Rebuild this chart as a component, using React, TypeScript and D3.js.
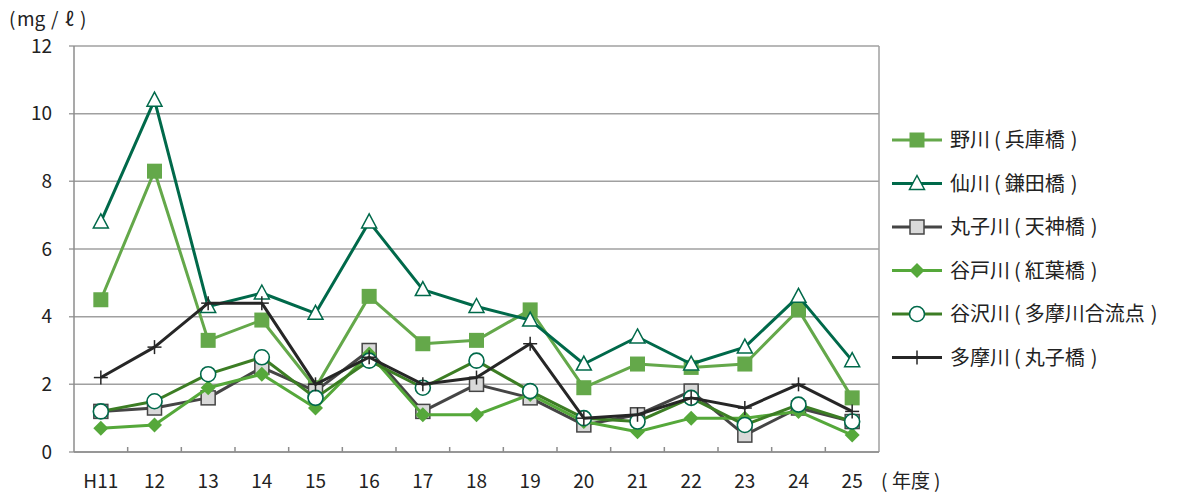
import React from "react";
import * as d3 from "d3";

const categories = ["H11", "12", "13", "14", "15", "16", "17", "18", "19", "20", "21", "22", "23", "24", "25"];
const yTicks = [0, 2, 4, 6, 8, 10, 12];

const noga = [4.5, 8.3, 3.3, 3.9, 1.9, 4.6, 3.2, 3.3, 4.2, 1.9, 2.6, 2.5, 2.6, 4.2, 1.6];
const sengawa = [6.8, 10.4, 4.3, 4.7, 4.1, 6.8, 4.8, 4.3, 3.9, 2.6, 3.4, 2.6, 3.1, 4.6, 2.7];
const marukogawa = [1.2, 1.3, 1.6, 2.5, 1.8, 3.0, 1.2, 2.0, 1.6, 0.8, 1.1, 1.8, 0.5, 1.3, 0.9];
const yatogawa = [0.7, 0.8, 1.9, 2.3, 1.3, 2.9, 1.1, 1.1, 1.7, 0.9, 0.6, 1.0, 1.0, 1.2, 0.5];
const yazawagawa = [1.2, 1.5, 2.3, 2.8, 1.6, 2.7, 1.9, 2.7, 1.8, 1.0, 0.9, 1.6, 0.8, 1.4, 0.9];
const tamagawa = [2.2, 3.1, 4.4, 4.4, 2.0, 2.8, 2.0, 2.2, 3.2, 1.0, 1.1, 1.6, 1.3, 2.0, 1.2];

const riverNames = ["野川", "仙川", "丸子川", "谷戸川", "谷沢川", "多摩川"];
const pointNames = ["兵庫橋", "鎌田橋", "天神橋", "紅葉橋", "多摩川合流点", "丸子橋"];

type Marker = "square" | "triangle" | "graySquare" | "diamond" | "circle" | "cross";
const series: { river: string; point: string; values: number[]; line: string; marker: Marker }[] = [
  { river: riverNames[0], point: pointNames[0], values: noga, line: "#64a84a", marker: "square" },
  { river: riverNames[1], point: pointNames[1], values: sengawa, line: "#00694a", marker: "triangle" },
  { river: riverNames[2], point: pointNames[2], values: marukogawa, line: "#454545", marker: "graySquare" },
  { river: riverNames[3], point: pointNames[3], values: yatogawa, line: "#55a83a", marker: "diamond" },
  { river: riverNames[4], point: pointNames[4], values: yazawagawa, line: "#3c7d24", marker: "circle" },
  { river: riverNames[5], point: pointNames[5], values: tamagawa, line: "#262626", marker: "cross" },
];

function MarkerShape({ type, x, y, color }: { type: Marker; x: number; y: number; color: string }) {
  switch (type) {
    case "square":
      return <rect x={x - 7.5} y={y - 7.5} width={15} height={15} fill={color} />;
    case "graySquare":
      return <rect x={x - 7} y={y - 7} width={14} height={14} fill="#d9d9d9" stroke="#454545" strokeWidth={1.5} />;
    case "triangle":
      return <path d={`M${x},${y - 8}L${x + 7.5},${y + 6}L${x - 7.5},${y + 6}Z`} fill="#fff" stroke={color} strokeWidth={1.5} />;
    case "diamond":
      return <path d={`M${x},${y - 7.5}L${x + 7.5},${y}L${x},${y + 7.5}L${x - 7.5},${y}Z`} fill={color} />;
    case "circle":
      return <circle cx={x} cy={y} r={7.5} fill="#fff" stroke="#00694a" strokeWidth={1.6} />;
    case "cross":
      return (
        <g stroke={color} strokeWidth={1.5}>
          <line x1={x - 7} x2={x + 7} y1={y} y2={y} />
          <line x1={x} x2={x} y1={y - 7} y2={y + 7} />
        </g>
      );
  }
}

export default function App() {
  const W = 1185, H = 495;
  const left = 74, right = 879, top = 46, bottom = 452;
  const x = d3.scaleBand<string>().domain(categories).range([left, right]);
  const y = d3.scaleLinear().domain([0, 12]).range([bottom, top]);
  const cx = (c: string) => (x(c) as number) + x.bandwidth() / 2;
  const line = d3.line<number>().x((_, i) => cx(categories[i])).y((v) => y(v));
  const font = "'Noto Sans CJK JP', 'Noto Sans', sans-serif";

  return (
    <svg width={W} height={H} style={{ position: "absolute", left: 0, top: 0 }} fontFamily={font}>
      <rect width={W} height={H} fill="#fff" />
      {yTicks.map((t) => (
        <g key={t}>
          <line x1={left - 5} x2={right} y1={y(t)} y2={y(t)} stroke="#a0a0a0" strokeWidth={1.5} />
          <text x={52} y={y(t)} dy="0.35em" textAnchor="end" fontSize={19} fill="#222">{t}</text>
        </g>
      ))}
      <line x1={left} x2={left} y1={top} y2={bottom} stroke="#8c8c8c" strokeWidth={1.5} />
      <line x1={right} x2={right} y1={top} y2={bottom} stroke="#a0a0a0" strokeWidth={1.5} />
      <line x1={left} x2={right} y1={bottom} y2={bottom} stroke="#8c8c8c" strokeWidth={1.5} />
      {categories.slice(1).map((c) => (
        <line key={c} x1={x(c) as number} x2={x(c) as number} y1={bottom} y2={bottom - 5} stroke="#8c8c8c" strokeWidth={1.5} />
      ))}
      {categories.map((c) => (
        <text key={c} x={cx(c)} y={488} textAnchor="middle" fontSize={19} fill="#222">{c}</text>
      ))}
      <text y={488} fontSize={19} fill="#222">
        <tspan x={881}>(</tspan>
        <tspan x={892}>年度</tspan>
        <tspan x={934}>)</tspan>
      </text>
      <text y={26} fontSize={19} fill="#222">
        <tspan x={9}>(</tspan>
        <tspan x={17}>mg</tspan>
        <tspan x={51}>/</tspan>
        <tspan x={65}>ℓ</tspan>
        <tspan x={80}>)</tspan>
      </text>

      {series.map((s) => (
        <g key={s.river}>
          <path d={line(s.values) || ""} fill="none" stroke={s.line} strokeWidth={3} strokeLinejoin="round" />
          {s.values.map((v, i) => (
            <MarkerShape key={i} type={s.marker} x={cx(categories[i])} y={y(v)} color={s.line} />
          ))}
        </g>
      ))}

      {series.map((s, i) => {
        const ly = 140 + i * 43.5;
        return (
          <g key={s.river}>
            <line x1={892} x2={942} y1={ly} y2={ly} stroke={s.line} strokeWidth={3} />
            <MarkerShape type={s.marker} x={917} y={ly} color={s.line} />
            <text x={950} y={ly} dy="0.35em" fontSize={20} fill="#222">
              <tspan>{s.river}</tspan>
              <tspan dx={4}>(</tspan>
              <tspan dx={4}>{s.point}</tspan>
              <tspan dx={6}>)</tspan>
            </text>
          </g>
        );
      })}
    </svg>
  );
}
